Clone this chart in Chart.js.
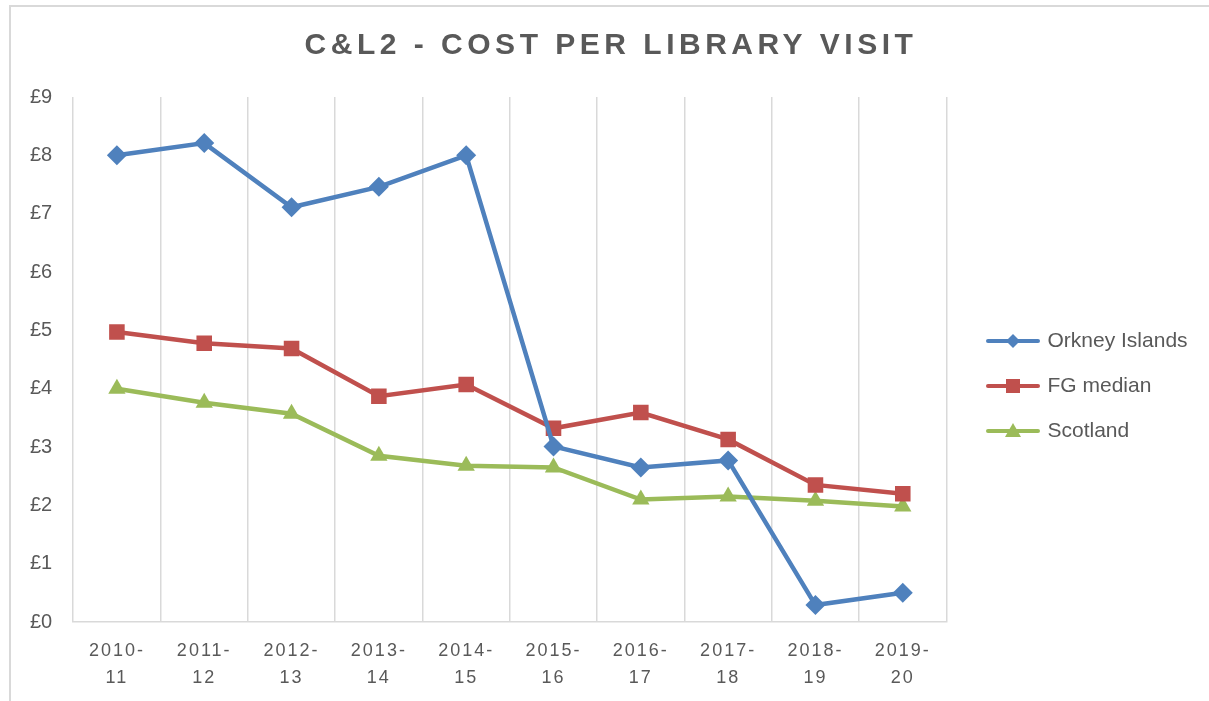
<!DOCTYPE html>
<html lang="en">
<head>
    <meta charset="UTF-8">
    <title>C&amp;L2 - Cost per library visit</title>
    <script src="https://cdn.jsdelivr.net/npm/chart.js"></script>
    <style>
        body { margin: 0; background: #fff; }
        #wrap { position: relative; width: 1209px; height: 701px; overflow: hidden; }
        #frame { position: absolute; left: 9px; top: 5px; width: 1220px; height: 720px;
                 border-left: 2px solid #d9d9d9; border-top: 2px solid #d9d9d9; }
        canvas { position: absolute; left: 0; top: 0; }
    </style>
</head>
<body>
    <div id="wrap">
        <div id="frame"></div>
        <canvas id="costChart" width="1209" height="701"></canvas>
    </div>

    <script>
        const years = [['2010-', '11'], ['2011-', '12'], ['2012-', '13'], ['2013-', '14'], ['2014-', '15'],
                       ['2015-', '16'], ['2016-', '17'], ['2017-', '18'], ['2018-', '19'], ['2019-', '20']];
        const orkney = [8.00, 8.21, 7.11, 7.46, 8.00, 3.01, 2.65, 2.77, 0.29, 0.50];
        const fgMedian = [4.97, 4.78, 4.69, 3.87, 4.07, 3.32, 3.59, 3.13, 2.35, 2.20];
        const scotland = [4.00, 3.76, 3.57, 2.85, 2.68, 2.65, 2.10, 2.15, 2.08, 1.98];

        const textColor = '#595959';
        const gridColor = '#d9d9d9';
        const fontName = "'Liberation Sans', Arial, sans-serif";

        // legend sample: line with the marker in the middle
        function legendSample(color, style) {
            const c = document.createElement('canvas');
            c.width = 54; c.height = 20;
            const g = c.getContext('2d');
            g.strokeStyle = color; g.fillStyle = color;
            g.lineWidth = 4; g.lineCap = 'round';
            g.beginPath(); g.moveTo(2, 10); g.lineTo(52, 10); g.stroke();
            g.beginPath();
            if (style === 'rectRot') {
                g.moveTo(27, 3); g.lineTo(34, 10); g.lineTo(27, 17); g.lineTo(20, 10);
            } else if (style === 'rect') {
                g.rect(20, 3, 14, 14);
            } else {
                g.moveTo(27, 2); g.lineTo(35, 16); g.lineTo(19, 16);
            }
            g.closePath(); g.fill();
            return c;
        }

        function series(label, data, color, style) {
            return {
                label: label,
                data: data,
                borderColor: color,
                backgroundColor: color,
                borderWidth: 4.5,
                pointStyle: style,
                pointRadius: style === 'rect' ? 11 : 10,
                pointBorderWidth: 0,
                tension: 0,
                sample: legendSample(color, style)
            };
        }

        // letter spacing for title and x labels, legend moved to match
        const tweaks = {
            id: 'tweaks',
            afterLayout(chart) {
                const lg = chart.legend;
                const dx = 965 - lg.left, dy = 32;
                lg.left += dx; lg.right += dx;
                lg.top += dy; lg.bottom += dy;
                const x = chart.scales.x;
                if (!x._spaced) {
                    const orig = x.drawLabels;
                    x.drawLabels = function (area) {
                        this.ctx.save();
                        this.ctx.letterSpacing = '2px';
                        orig.call(this, area);
                        this.ctx.restore();
                    };
                    x._spaced = true;
                }
                const t = chart.titleBlock;
                if (t && !t._spaced) {
                    const origT = t.draw;
                    t.draw = function () {
                        this.ctx.save();
                        this.ctx.translate(13, 0);
                        this.ctx.letterSpacing = '4.5px';
                        origT.call(this);
                        this.ctx.restore();
                    };
                    t._spaced = true;
                }
            }
        };

        const ctx = document.getElementById('costChart').getContext('2d');
        new Chart(ctx, {
            type: 'line',
            data: {
                labels: years,
                datasets: [
                    series('Orkney Islands', orkney, '#4f81bd', 'rectRot'),
                    series('FG median', fgMedian, '#c0504d', 'rect'),
                    series('Scotland', scotland, '#9bbb59', 'triangle')
                ]
            },
            options: {
                responsive: false,
                animation: false,
                layout: { padding: { left: 17, right: 30, top: 0, bottom: -7 } },
                plugins: {
                    title: {
                        display: true,
                        text: 'C&L2 - COST PER LIBRARY VISIT',
                        color: textColor,
                        font: { family: fontName, size: 30, weight: 'bold' },
                        padding: { top: 28, bottom: 33 }
                    },
                    legend: {
                        position: 'right',
                        labels: {
                            color: textColor,
                            font: { family: fontName, size: 21 },
                            usePointStyle: true,
                            pointStyleWidth: 48,
                            padding: 24,
                            generateLabels(chart) {
                                return chart.data.datasets.map((ds, i) => ({
                                    text: ds.label,
                                    fontColor: textColor,
                                    pointStyle: ds.sample,
                                    datasetIndex: i,
                                    hidden: false,
                                    lineWidth: 0
                                }));
                            }
                        }
                    },
                    tooltip: { enabled: false }
                },
                scales: {
                    x: {
                        offset: true,
                        grid: { offset: true, color: gridColor, lineWidth: 1.5, drawTicks: false },
                        border: { display: true, color: gridColor, width: 1.5 },
                        ticks: {
                            color: textColor,
                            font: { family: fontName, size: 18, lineHeight: 1.5 },
                            maxRotation: 0,
                            autoSkip: false,
                            padding: 16
                        }
                    },
                    y: {
                        min: 0,
                        max: 9,
                        grid: { display: false },
                        border: { display: false },
                        ticks: {
                            stepSize: 1,
                            color: textColor,
                            font: { family: fontName, size: 20 },
                            padding: 13,
                            callback: v => '£' + v
                        }
                    }
                }
            },
            plugins: [tweaks]
        });
    </script>
</body>
</html>
